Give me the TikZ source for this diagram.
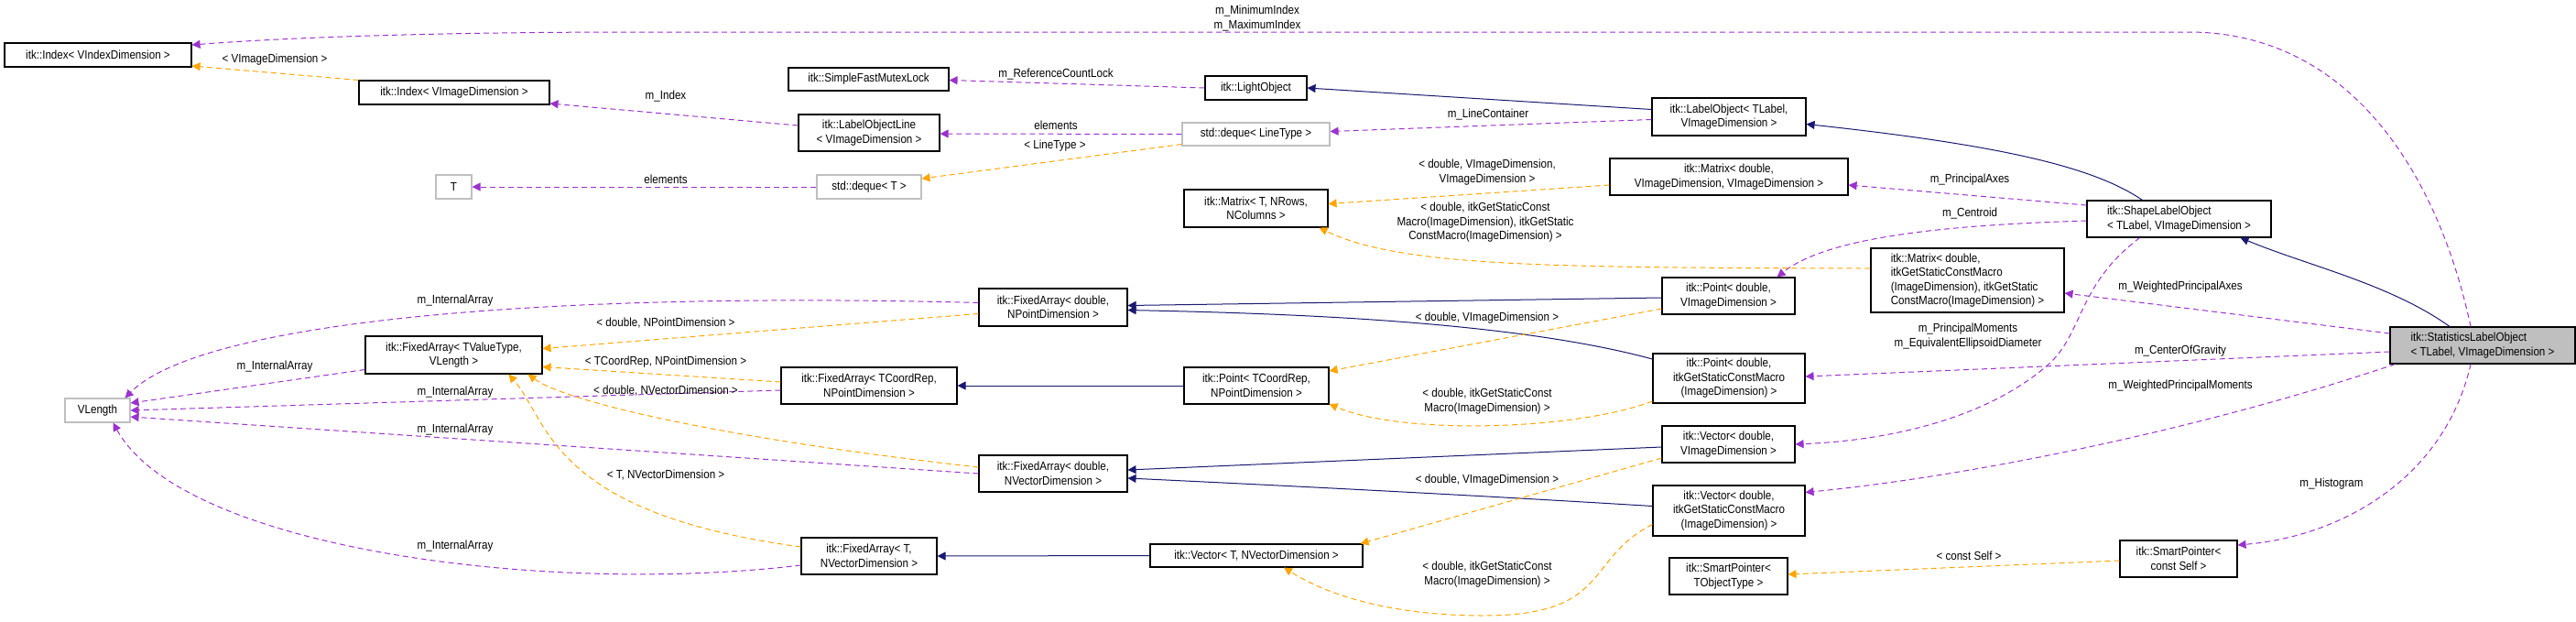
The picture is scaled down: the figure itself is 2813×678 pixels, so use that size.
\documentclass[tikz,border=0pt]{standalone}
\usepackage{fontspec}
\setmainfont[FakeStretch=0.88]{Liberation Sans}
\usetikzlibrary{arrows.meta}
\definecolor{pcol}{HTML}{9A32CD}
\definecolor{ocol}{HTML}{FFA500}
\definecolor{ncol}{HTML}{191970}
\tikzset{
 txt/.style={font=\fontsize{13.2}{15.5}\selectfont},
 box/.style={txt, draw=black, fill=white, line width=1.1pt, inner sep=0pt, align=center},
 gbox/.style={box, draw=black!25},
 lbox/.style={box, align=left},
 mem/.style={draw=pcol, line width=1pt, dash pattern=on 6pt off 4pt, -{Triangle[length=9pt,width=9pt]}},
 tpl/.style={draw=ocol, line width=1pt, dash pattern=on 6pt off 4pt, -{Triangle[length=9pt,width=9pt]}},
 inh/.style={draw=ncol, line width=1pt, -{Triangle[length=9pt,width=9pt]}},
 lab/.style={txt, align=center, inner sep=0pt}
}
\begin{document}
\begin{tikzpicture}[x=1pt,y=-1pt]
\useasboundingbox (0,0) rectangle (2813,678);
% nodes
\node[box, minimum width=204pt, minimum height=26pt] (IdxVI) at (107,60) {itk::Index< VIndexDimension >};
\node[box, minimum width=208pt, minimum height=26pt] (IdxVImg) at (496,101) {itk::Index< VImageDimension >};
\node[box, minimum width=175pt, minimum height=25pt] (SFML) at (948.5,86.5) {itk::SimpleFastMutexLock};
\node[box, minimum width=154pt, minimum height=40pt] (LOL) at (949,145) {itk::LabelObjectLine\\< VImageDimension >};
\node[gbox, minimum width=39pt, minimum height=26pt] (T) at (495.5,204) {T};
\node[gbox, minimum width=114pt, minimum height=26pt] (dequeT) at (949,204) {std::deque< T >};
\node[box, minimum width=111pt, minimum height=26pt] (LightObject) at (1371.5,96) {itk::LightObject};
\node[gbox, minimum width=161pt, minimum height=25pt] (dequeLT) at (1371.5,146.5) {std::deque< LineType >};
\node[box, minimum width=168pt, minimum height=41pt] (LabelObject) at (1888,127.5) {itk::LabelObject< TLabel,\\VImageDimension >};
\node[box, minimum width=260pt, minimum height=40pt] (MatrixD) at (1888,193) {itk::Matrix< double,\\VImageDimension, VImageDimension >};
\node[box, minimum width=157pt, minimum height=41pt] (MatrixT) at (1371.5,227.5) {itk::Matrix< T, NRows,\\NColumns >};
\node[box, minimum width=145pt, minimum height=40pt] (PointD) at (1887.5,323) {itk::Point< double,\\VImageDimension >};
\node[box, minimum width=162pt, minimum height=41pt] (FAdP) at (1150,335.5) {itk::FixedArray< double,\\NPointDimension >};
\node[box, minimum width=158pt, minimum height=40pt] (PointTC) at (1372,421) {itk::Point< TCoordRep,\\NPointDimension >};
\node[box, minimum width=166pt, minimum height=54pt] (PointDG) at (1888,413) {itk::Point< double,\\itkGetStaticConstMacro\\(ImageDimension) >};
\node[box, minimum width=145pt, minimum height=40pt] (VecD) at (1887.5,485) {itk::Vector< double,\\VImageDimension >};
\node[box, minimum width=162pt, minimum height=40pt] (FAdV) at (1150,517) {itk::FixedArray< double,\\NVectorDimension >};
\node[box, minimum width=166pt, minimum height=55pt] (VecDG) at (1888,557.5) {itk::Vector< double,\\itkGetStaticConstMacro\\(ImageDimension) >};
\node[box, minimum width=232pt, minimum height=25pt] (VecT) at (1372,606.5) {itk::Vector< T, NVectorDimension >};
\node[box, minimum width=129pt, minimum height=40pt] (SPT) at (1887.5,629) {itk::SmartPointer<\\TObjectType >};
\node[box, minimum width=193pt, minimum height=41pt] (FATV) at (495.5,387.5) {itk::FixedArray< TValueType,\\VLength >};
\node[gbox, minimum width=71pt, minimum height=26pt] (VLength) at (106.5,448) {VLength};
\node[box, minimum width=192pt, minimum height=40pt] (FATC) at (949,421) {itk::FixedArray< TCoordRep,\\NPointDimension >};
\node[box, minimum width=148pt, minimum height=40pt] (FATN) at (949,607) {itk::FixedArray< T,\\NVectorDimension >};
\node[lbox, minimum width=201pt, minimum height=40pt] (Shape) at (2379.5,239) {itk::ShapeLabelObject\\< TLabel, VImageDimension >};
\node[lbox, minimum width=211pt, minimum height=70pt] (MatrixDG) at (2148.5,306) {itk::Matrix< double,\\ itkGetStaticConstMacro\\(ImageDimension), itkGetStatic\\ConstMacro(ImageDimension) >};
\node[lbox, fill=black!25, minimum width=202pt, minimum height=40pt] (Stats) at (2711,377) {itk::StatisticsLabelObject\\< TLabel, VImageDimension >};
\node[box, minimum width=128pt, minimum height=40pt] (SPC) at (2379,610) {itk::SmartPointer<\\const Self >};
% inheritance
\draw[inh] ([yshift=8pt]LabelObject.west) -- (LightObject.east);
\draw[inh] ([xshift=-40pt]Shape.north) .. controls (2290,185) and (2200,160) .. ([yshift=-8pt]LabelObject.east);
\draw[inh] ([xshift=-36pt]Stats.north) .. controls (2610,310) and (2520,290) .. ([xshift=67pt]Shape.south);
\draw[inh] ([yshift=-2pt]PointD.west) -- ([yshift=2pt]FAdP.east);
\draw[inh] ([yshift=21pt]PointDG.west) .. controls (1650,350) and (1400,342) .. ([yshift=-3pt]FAdP.east);
\draw[inh] (PointTC.west) -- (FATC.east);
\draw[inh] ([yshift=-3pt]VecD.west) -- ([yshift=4pt]FAdV.east);
\draw[inh] ([yshift=5pt]VecDG.west) .. controls (1600,540) and (1400,530) .. ([yshift=-5pt]FAdV.east);
\draw[inh] (VecT.west) -- (FATN.east);
% members
\draw[mem] ([xshift=-13pt]Stats.north) .. controls (2660,180) and (2560,35) .. (2390,35) -- (700,35) .. controls (450,35) and (300,42) .. ([yshift=11pt]IdxVI.east);
\draw[mem] ([yshift=8pt]LOL.west) -- ([yshift=-12pt]IdxVImg.east);
\draw[mem] (LightObject.west) -- ([yshift=-1pt]SFML.east);
\draw[mem] ([yshift=-3pt]LabelObject.west) -- ([yshift=3pt]dequeLT.east);
\draw[mem] (dequeLT.west) -- ([yshift=-1pt]LOL.east);
\draw[mem] (dequeT.west) -- (T.east);
\draw[mem] ([yshift=15pt]Shape.west) -- ([yshift=-9pt]MatrixD.east);
\draw[mem] ([yshift=-2pt]Shape.west) .. controls (2150,245) and (2000,255) .. ([xshift=53pt]PointD.north);
\draw[mem] ([yshift=13pt]Stats.west) -- ([yshift=-14pt]MatrixDG.east);
\draw[mem] ([xshift=-43pt]Shape.south) .. controls (2270,310) and (2275,360) .. (2240,395) .. controls (2180,450) and (2080,480) .. (VecD.east);
\draw[mem] ([yshift=-7pt]Stats.west) -- ([yshift=2pt]PointDG.east);
\draw[mem] ([xshift=6pt]Stats.south west) .. controls (2400,470) and (2150,520) .. ([yshift=20pt]VecDG.east);
\draw[mem] ([xshift=-13pt]Stats.south) .. controls (2670,520) and (2560,585) .. ([yshift=15pt]SPC.east);
\draw[mem] ([yshift=5pt]FAdP.west) .. controls (600,318) and (220,350) .. ([xshift=30pt]VLength.north);
\draw[mem] ([yshift=-16pt]FATV.west) -- ([yshift=8pt]VLength.east);
\draw[mem] ([yshift=-5pt]FATC.west) -- (VLength.east);
\draw[mem] (FAdV.west) -- ([yshift=-7pt]VLength.east);
\draw[mem] ([yshift=-10pt]FATN.west) .. controls (600,650) and (200,600) .. ([xshift=17pt]VLength.south);
% templates
\draw[tpl] (IdxVImg.north west) -- ([yshift=-12pt]IdxVI.east);
\draw[tpl] ([yshift=-11pt]dequeLT.west) -- ([yshift=9pt]dequeT.east);
\draw[tpl] ([yshift=-9pt]MatrixD.west) -- ([yshift=5pt]MatrixT.east);
\draw[tpl] ([yshift=13pt]MatrixDG.west) .. controls (1700,292) and (1530,292) .. ([xshift=-10pt]MatrixT.south east);
\draw[tpl] ([yshift=-7pt]FAdP.west) -- ([yshift=7pt]FATV.east);
\draw[tpl] ([yshift=4pt]FATC.west) -- ([yshift=-13pt]FATV.east);
\draw[tpl] ([yshift=7pt]FAdV.west) .. controls (800,480) and (620,440) .. ([xshift=81pt]FATV.south);
\draw[tpl] ([yshift=10pt]FATN.west) .. controls (600,560) and (600,460) .. ([xshift=60pt]FATV.south);
\draw[tpl] ([yshift=-14pt]PointD.west) -- ([yshift=16pt]PointTC.east);
\draw[tpl] ([yshift=-25pt]PointDG.west) .. controls (1720,470) and (1530,475) .. ([yshift=-20pt]PointTC.east);
\draw[tpl] ([yshift=-15pt]VecD.west) -- ([xshift=-3pt]VecT.north east);
\draw[tpl] ([yshift=-15pt]VecDG.west) .. controls (1730,610) and (1760,672) .. (1620,672) .. controls (1520,672) and (1450,650) .. ([xshift=30pt]VecT.south);
\draw[tpl] ([yshift=-2pt]SPC.west) -- ([yshift=2pt]SPT.east);
% labels
\node[lab] (L1) at (1373,20) {m\_MinimumIndex\\m\_MaximumIndex};
\node[lab] (L2) at (300,65) {< VImageDimension >};
\node[lab] (L3) at (727,105) {m\_Index};
\node[lab] (L4) at (1153,81) {m\_ReferenceCountLock};
\node[lab] (L5) at (1153,137) {elements};
\node[lab] (L6) at (1152,159) {< LineType >};
\node[lab] (L7) at (727,196) {elements};
\node[lab] (L8) at (1625,125) {m\_LineContainer};
\node[lab] (L9) at (1624,188) {< double, VImageDimension,\\VImageDimension >};
\node[lab] (L10) at (1622,243) {< double, itkGetStaticConst\\Macro(ImageDimension), itkGetStatic\\ConstMacro(ImageDimension) >};
\node[lab] (L11) at (2151,196) {m\_PrincipalAxes};
\node[lab] (L12) at (2151,233) {m\_Centroid};
\node[lab] (L13) at (2381,313) {m\_WeightedPrincipalAxes};
\node[lab] (L14) at (2149,367) {m\_PrincipalMoments\\m\_EquivalentEllipsoidDiameter};
\node[lab] (L15) at (2381,383) {m\_CenterOfGravity};
\node[lab] (L16) at (2381,421) {m\_WeightedPrincipalMoments};
\node[lab] (L17) at (2546,528) {m\_Histogram};
\node[lab] (L18) at (2150,607) {< const Self >};
\node[lab] (L19) at (1624,347) {< double, VImageDimension >};
\node[lab] (L20) at (1624,438) {< double, itkGetStaticConst\\Macro(ImageDimension) >};
\node[lab] (L21) at (1624,524) {< double, VImageDimension >};
\node[lab] (L22) at (1624,627) {< double, itkGetStaticConst\\Macro(ImageDimension) >};
\node[lab] (L23) at (497,328) {m\_InternalArray};
\node[lab] (L24) at (727,353) {< double, NPointDimension >};
\node[lab] (L25) at (300,400) {m\_InternalArray};
\node[lab] (L26) at (727,395) {< TCoordRep, NPointDimension >};
\node[lab] (L27) at (497,428) {m\_InternalArray};
\node[lab] (L28) at (727,427) {< double, NVectorDimension >};
\node[lab] (L29) at (497,469) {m\_InternalArray};
\node[lab] (L30) at (727,519) {< T, NVectorDimension >};
\node[lab] (L31) at (497,596) {m\_InternalArray};
\end{tikzpicture}
\end{document}
